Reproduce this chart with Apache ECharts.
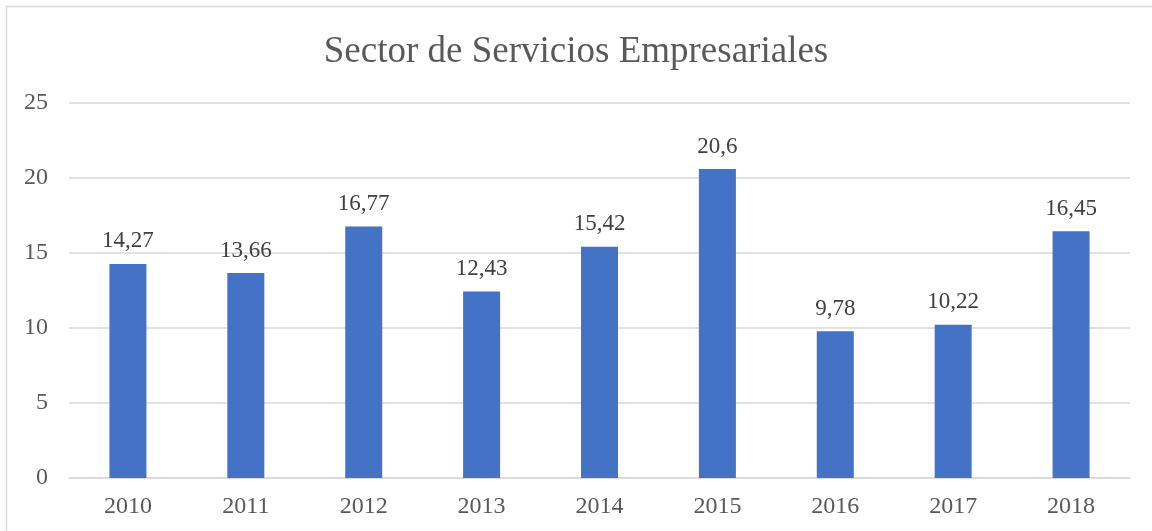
<!DOCTYPE html>
<html>
<head>
<meta charset="utf-8">
<script src="https://cdn.jsdelivr.net/npm/echarts@6/dist/echarts.min.js"></script>
<style>
html,body{margin:0;padding:0;background:#fff;}
#main{width:1152px;height:531px;}
</style>
</head>
<body>
<div id="main"></div>
<script>
// datos del grafico
const titulo = 'Sector de Servicios Empresariales'
const anios = ['2010', '2011', '2012', '2013', '2014', '2015', '2016', '2017', '2018']
const valores = [14.27, 13.66, 16.77, 12.43, 15.42, 20.6, 9.78, 10.22, 16.45]
const etiquetas = ['14,27', '13,66', '16,77', '12,43', '15,42', '20,6', '9,78', '10,22', '16,45']
const ticksY = [0, 5, 10, 15, 20, 25]

const myChart = echarts.init(document.getElementById('main'))
const fuente = '"Liberation Serif", "DejaVu Serif", serif'

const options = {
    animation: false,
    title: {
        text: titulo,
        left: 'center',
        top: 29,
        textStyle: {
            fontFamily: fuente,
            fontSize: 37,
            fontWeight: 'normal',
            color: '#595959'
        }
    },
    graphic: [
        {
            type: 'rect',
            shape: { x: 6.5, y: 6.5, width: 1200, height: 600 },
            style: { fill: 'none', stroke: '#d9d9d9', lineWidth: 1.5 },
            silent: true
        }
    ],
    grid: {
        left: 69,
        right: 22,
        top: 103,
        bottom: 53,
        containLabel: false
    },
    xAxis: {
        type: 'category',
        data: anios,
        axisTick: { show: false },
        axisLine: { lineStyle: { color: '#d9d9d9', width: 1.5 } },
        axisLabel: {
            fontFamily: fuente,
            fontSize: 24,
            color: '#595959',
            margin: 17
        }
    },
    yAxis: {
        type: 'value',
        min: ticksY[0],
        max: ticksY[ticksY.length - 1],
        interval: 5,
        axisLine: { show: false },
        axisTick: { show: false },
        axisLabel: {
            fontFamily: fuente,
            fontSize: 24,
            color: '#595959',
            margin: 21
        },
        splitLine: { lineStyle: { color: '#d9d9d9', width: 1.5 } }
    },
    series: [
        {
            type: 'bar',
            data: valores,
            barWidth: 37,
            itemStyle: { color: '#4472c4' },
            label: {
                show: true,
                position: 'top',
                distance: 11,
                fontFamily: fuente,
                fontSize: 23,
                color: '#404040',
                formatter: p => etiquetas[p.dataIndex]
            }
        }
    ]
}
myChart.setOption(options)
</script>
</body>
</html>
